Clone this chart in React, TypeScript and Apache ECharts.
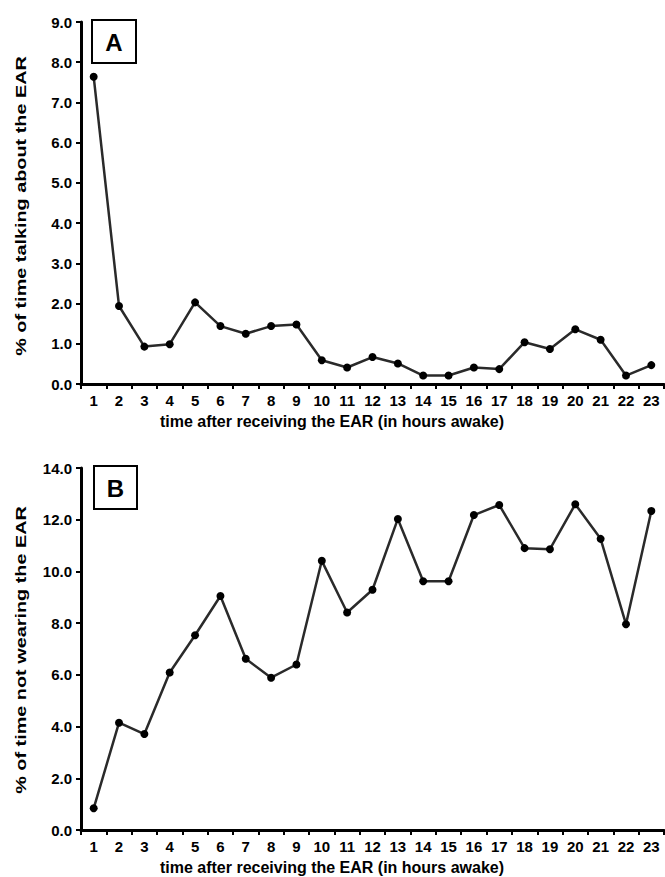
import React, { useEffect, useRef } from "react";
import * as echarts from "echarts";

const hours = ["1","2","3","4","5","6","7","8","9","10","11","12","13","14","15","16","17","18","19","20","21","22","23"];
const talkingPct = [7.64, 1.94, 0.93, 0.99, 2.03, 1.44, 1.25, 1.44, 1.48, 0.59, 0.41, 0.67, 0.51, 0.21, 0.21, 0.41, 0.37, 1.04, 0.87, 1.36, 1.10, 0.21, 0.47];
const notWearingPct = [0.84, 4.15, 3.71, 6.09, 7.53, 9.05, 6.62, 5.89, 6.40, 10.41, 8.41, 9.29, 12.03, 9.62, 9.62, 12.18, 12.57, 10.90, 10.86, 12.60, 11.26, 7.96, 12.34];
const xTitle = "time after receiving the EAR (in hours awake)";
const yTitleA = "% of time talking about the EAR";
const yTitleB = "% of time not wearing the EAR";

const FONT = "Liberation Sans, Arial, Helvetica, sans-serif";

export default function App() {
  const ref = useRef<HTMLDivElement>(null);
  useEffect(() => {
    if (!ref.current) return;
    const chart = echarts.init(ref.current, null, { renderer: "svg" });
    const xAxisBase = (gridIndex: number) => ({
      type: "category",
      gridIndex,
      data: hours,
      boundaryGap: true,
      axisLine: { lineStyle: { color: "#000", width: 3 } },
      axisTick: { show: true, length: 5, lineStyle: { color: "#000", width: 2 } },
      axisLabel: { color: "#000", fontFamily: FONT, fontWeight: "bold", fontSize: 15, margin: 9, interval: 0 },
      splitLine: { show: false },
    });
    const yAxisBase = (gridIndex: number, max: number, interval: number) => ({
      type: "value",
      gridIndex,
      min: 0,
      max,
      interval,
      axisLine: { show: true, lineStyle: { color: "#000", width: 3 } },
      axisTick: { show: true, length: 5, lineStyle: { color: "#000", width: 2 } },
      axisLabel: { color: "#000", fontFamily: FONT, fontWeight: "bold", fontSize: 15, margin: 9, formatter: (v: number) => v.toFixed(1) },
      splitLine: { show: false },
    });
    const seriesBase = (idx: number, data: number[]) => ({
      type: "line",
      xAxisIndex: idx,
      yAxisIndex: idx,
      data,
      symbol: "circle",
      symbolSize: 8,
      itemStyle: { color: "#000" },
      lineStyle: { color: "#2a2a2a", width: 2.5 },
    });
    const yTitle = (text: string, y: number) => ({
      type: "text",
      x: 21.5,
      y,
      rotation: Math.PI / 2,
      scaleX: 1.24,
      scaleY: 0.9,
      style: { text, fontFamily: FONT, fontWeight: "bold", fontSize: 16, fill: "#000", align: "center", verticalAlign: "middle" },
    });
    chart.setOption({
      animation: false,
      backgroundColor: "#fff",
      grid: [
        { left: 81, top: 22, width: 583, height: 362 },
        { left: 81, top: 468, width: 583, height: 362 },
      ],
      xAxis: [xAxisBase(0), xAxisBase(1)],
      yAxis: [yAxisBase(0, 9, 1), yAxisBase(1, 14, 2)],
      series: [seriesBase(0, talkingPct), seriesBase(1, notWearingPct)],
      graphic: [
        { type: "rect", shape: { x: 92, y: 20, width: 44, height: 43 }, style: { fill: "#fff", stroke: "#000", lineWidth: 2 }, z: 10 },
        { type: "text", x: 114, y: 42, style: { text: "A", fontFamily: FONT, fontWeight: "bold", fontSize: 24, fill: "#000", align: "center", verticalAlign: "middle" }, z: 11 },
        { type: "rect", shape: { x: 94, y: 466, width: 43, height: 43 }, style: { fill: "#fff", stroke: "#000", lineWidth: 2 }, z: 10 },
        { type: "text", x: 115.5, y: 488, style: { text: "B", fontFamily: FONT, fontWeight: "bold", fontSize: 24, fill: "#000", align: "center", verticalAlign: "middle" }, z: 11 },
        { type: "text", x: 332, y: 421, style: { text: xTitle, fontFamily: FONT, fontWeight: "bold", fontSize: 16, fill: "#000", align: "center", verticalAlign: "middle" } },
        { type: "text", x: 332, y: 867, style: { text: xTitle, fontFamily: FONT, fontWeight: "bold", fontSize: 16, fill: "#000", align: "center", verticalAlign: "middle" } },
        yTitle(yTitleA, 206),
        yTitle(yTitleB, 650),
      ],
    });
    return () => chart.dispose();
  }, []);
  return <div ref={ref} style={{ position: "fixed", left: 0, top: 0, width: 665, height: 877 }} />;
}
